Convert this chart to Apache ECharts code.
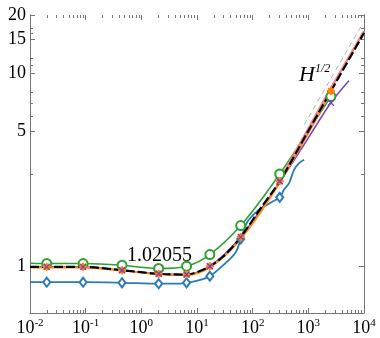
<!DOCTYPE html>
<html>
<head>
<meta charset="utf-8">
<script src="https://cdn.jsdelivr.net/npm/echarts@6.0.0/dist/echarts.min.js"></script>
<style>
  html, body { margin: 0; padding: 0; background: #fff; }
  #chart { width: 380px; height: 338px; }
</style>
</head>
<body>
<div id="chart"></div>
<script>
  // x positions of the markers (shared by the sampled curves)
  const markX = [0.02, 0.09, 0.45, 2.05, 6.5, 17, 61, 306, 2540]

  // marker heights per curve
  const blueMarkY = [0.83, 0.83, 0.824, 0.815, 0.824, 0.891, 1.39, 2.28]
  const greenMarkY = [1.036, 1.036, 1.016, 0.977, 1.004, 1.153, 1.628, 3.01, 7.57]
  const starMarkY = [0.996, 0.996, 0.957, 0.917, 0.909, 1.004, 1.42, 2.76, 8.1]
  const crossMarkY = [0.996, 0.996, 0.957, 0.917, 0.909, 1.004, 1.42, 2.76, 7.03]

  // full curves, [x, y]
  const blueLine = [[0.01, 0.83], [0.02, 0.83], [0.09, 0.83], [0.45, 0.824], [2.05, 0.815], [4, 0.815],
    [6.5, 0.824], [11, 0.85], [17, 0.891], [30, 1.02], [49, 1.18], [61, 1.38], [80, 1.70], [130, 1.97],
    [184, 2.09], [229, 2.17], [306, 2.28], [366, 2.50], [451, 2.70], [555, 3.17], [683, 3.43], [840, 3.57]]
  const greenLine = [[0.01, 1.04], [0.02, 1.036], [0.09, 1.036], [0.45, 1.016], [2.05, 0.977], [6.5, 1.004],
    [17, 1.153], [61, 1.628], [306, 3.01], [2540, 7.57], [2900, 8.1]]
  const orangeLine = [[0.01, 0.99], [0.02, 0.99], [0.09, 0.99], [0.45, 0.953], [2.05, 0.912], [6.5, 0.903],
    [17, 0.99], [61, 1.39], [306, 2.72], [2540, 8.0]]
  const purpleLine = [[0.01, 0.996], [0.02, 0.996], [0.09, 0.996], [0.45, 0.957], [2.05, 0.917], [6.5, 0.909],
    [17, 1.004], [61, 1.42], [306, 2.74], [733, 4.02], [2540, 7.03], [5370, 9.13]]
  const pinkLine = [[306, 2.79], [1000, 5.15], [2540, 8.35], [10000, 16.5]]
  const blackLine = [[0.01, 0.996], [0.02, 0.996], [0.09, 0.996], [0.45, 0.957], [2.05, 0.917], [6.5, 0.909],
    [11, 0.945], [17, 1.004], [30, 1.13], [61, 1.42], [139, 2.0], [306, 2.76], [1000, 5.03], [2540, 8.07], [10000, 16.15]]
  const halfLine = [[843, 5.41], [9200, 17.8]]

  // ticks
  const xDecades = [-2, -1, 0, 1, 2, 3, 4]
  const xMinorMult = [2, 3, 4, 5, 6, 7, 8, 9]
  const yLabels = [1, 5, 10, 15, 20]
  const yMinor = [3, 6, 7, 8, 11, 12, 16, 17]
  const yMin = 0.575
  const yMax = 20

  const lg = v => Math.log10(v)
  const toLog = pts => pts.map(p => [lg(p[0]), lg(p[1])])
  const marks = ys => ys.map((y, i) => [lg(markX[i]), lg(y)])

  let xMinor = []
  xDecades.slice(0, -1).forEach(d => {
    xMinorMult.forEach(m => xMinor.push(d + lg(m)))
  })

  const serif = '"Liberation Serif", "Times New Roman", serif'
  const axisGray = '#777'

  function xAxisFor(position, values, len, showLine, showLabel) {
    return {
      type: 'value', min: -2, max: 4, interval: 1, position: position,
      axisLine: { show: showLine, onZero: false, lineStyle: { color: axisGray, width: 1 } },
      axisTick: { show: true, inside: true, length: len, customValues: values,
        lineStyle: { color: axisGray, width: 1 } },
      axisLabel: { show: showLabel, margin: 5,
        formatter: v => '{b|10}{s|' + Math.round(v) + '}',
        rich: {
          b: { fontFamily: serif, fontSize: 18, color: '#000', lineHeight: 20 },
          s: { fontFamily: serif, fontSize: 11, color: '#000', verticalAlign: 'top', lineHeight: 12 }
        }
      },
      splitLine: { show: false }
    }
  }
  function yAxisFor(position, values, len, showLabel) {
    return {
      type: 'value', min: lg(yMin), max: lg(yMax), position: position,
      axisLine: { show: true, onZero: false, lineStyle: { color: axisGray, width: 1 } },
      axisTick: { show: true, inside: true, length: len, customValues: values,
        lineStyle: { color: axisGray, width: 1 } },
      axisLabel: { show: showLabel, margin: 4, customValues: yLabels.map(lg),
        formatter: v => String(Math.round(Math.pow(10, v))),
        fontFamily: serif, fontSize: 18, color: '#000' },
      splitLine: { show: false }
    }
  }

  function line(data, color, width, z, dash) {
    const s = {
      type: 'line', data: toLog(data), showSymbol: false, smooth: 0.3, z: z,
      lineStyle: { color: color, width: width },
      silent: true
    }
    if (dash) s.lineStyle.type = dash
    return s
  }
  function scatter(data, symbol, size, color, fill, bw, z) {
    return {
      type: 'scatter', data: data, symbol: symbol, symbolSize: size, z: z,
      itemStyle: { color: fill, borderColor: color, borderWidth: bw, opacity: 1 },
      silent: true
    }
  }

  const chart = echarts.init(document.getElementById('chart'), null, { renderer: 'canvas' })
  chart.setOption({
    animation: false,
    backgroundColor: '#fff',
    textStyle: { fontFamily: serif },
    grid: { left: 30, right: 16, top: 15, bottom: 25, outerBoundsMode: 'none', containLabel: false },
    xAxis: [
      xAxisFor('bottom', xDecades, 5, true, true),
      xAxisFor('bottom', xMinor, 3, false, false),
      xAxisFor('top', xDecades, 5, false, false),
      xAxisFor('top', xMinor, 3, false, false)
    ],
    yAxis: [
      yAxisFor('left', yLabels.map(lg), 5, true),
      yAxisFor('left', yMinor.map(lg), 3, false),
      yAxisFor('right', yLabels.map(lg), 5, false),
      yAxisFor('right', yMinor.map(lg), 3, false)
    ],
    series: [
      line(halfLine, '#999', 0.8, 1, [5, 4]),
      line(blueLine, '#2a7ab8', 1.8, 2),
      line(greenLine, '#2ca02c', 1.5, 2),
      line(purpleLine, '#7b3fbf', 1.5, 3),
      line(orangeLine, '#ff8c1a', 2, 3),
      line(pinkLine, '#f08a8a', 2.5, 3),
      line(blackLine, '#000', 2.2, 4, [9, 3]),
      // empty symbols stroke with itemStyle.color
      scatter(marks(blueMarkY), 'emptyDiamond', [7, 9], '#2a7ab8', '#2a7ab8', 1.2, 5),
      scatter(marks(greenMarkY), 'emptyCircle', 9, '#2ca02c', '#2ca02c', 1.2, 5),
      scatter(marks(starMarkY), 'path://M0,-5L0,5M-5,0L5,0M-3.5,-3.5L3.5,3.5M-3.5,3.5L3.5,-3.5', 8,
        '#ff7f0e', 'none', 2, 6),
      scatter(marks(crossMarkY), 'path://M-4,-4L4,4M-4,4L4,-4', 6, '#7b3fbf', 'none', 1.3, 7)
    ],
    graphic: [
      {
        type: 'text', left: 127, top: 246, z: 10,
        style: { text: '1.02055', font: '20px "Liberation Serif", serif', fill: '#000' }
      },
      {
        type: 'text', left: 299, top: 63, z: 10,
        style: {
          text: '{h|H}{s|1/2}', fill: '#000',
          rich: {
            h: { fontFamily: serif, fontStyle: 'italic', fontSize: 22, lineHeight: 24 },
            s: { fontFamily: serif, fontStyle: 'italic', fontSize: 12, verticalAlign: 'top', lineHeight: 12 }
          }
        }
      }
    ]
  })
</script>
</body>
</html>
